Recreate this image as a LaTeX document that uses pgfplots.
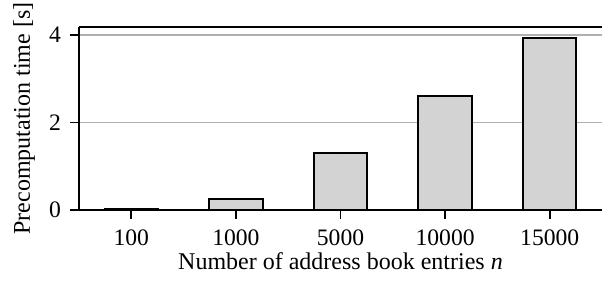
\documentclass[border=0pt]{standalone}
\usepackage{pgfplots}
\pgfplotsset{compat=1.18}
\usepackage{fontspec}
\setmainfont{Liberation Serif}
\definecolor{barfill}{HTML}{D3D3D3}
\definecolor{gridgray}{HTML}{B0B0B0}
\begin{document}
\begin{tikzpicture}
\begin{axis}[
  at={(0,0)}, anchor=south west,
  scale only axis,
  width=261.5pt, height=91.5pt,
  xmin=-0.5, xmax=4.5,
  ymin=0, ymax=4.18,
  separate axis lines,
  axis x line=box,
  axis y line=left,
  axis line style={line width=0.9pt, -},
  xtick={0,1,2,3,4},
  xticklabels={100,1000,5000,10000,15000},
  ytick={0,2,4},
  tick pos=left,
  tick align=outside,
  major tick length=4.5pt,
  tick style={line width=0.9pt, black},
  ymajorgrids,
  grid style={gridgray, line width=0.7pt},
  xlabel={Number of address book entries \textit{n}},
  ylabel={Precomputation time [s]},
  /pgf/number format/assume math mode=true,
  tick label style={font=\fontsize{11.8}{14}\selectfont},
  xticklabel style={yshift=-2pt},
  yticklabel style={xshift=-1pt},
  label style={font=\fontsize{12}{14}\selectfont},
  xlabel style={at={(axis description cs:0.5,-0.279)}, anchor=center},
  ylabel style={at={(axis description cs:-0.105,0.5)}, anchor=center},
]
\addplot[ybar, bar width=0.51, fill=barfill, draw=black, line width=1pt,
  error bars/.cd, y dir=both, y explicit, error bar style={line width=0.8pt}, error mark=none]
  coordinates {
    (0,0.02) +- (0,0.003)
    (1,0.26) +- (0,0.005)
    (2,1.30) +- (0,0.01)
    (3,2.61) +- (0,0.015)
    (4,3.94) +- (0,0.02)
  };
\end{axis}
\pgfresetboundingbox
\path[use as bounding box] (-39.5pt,-37pt) rectangle (262pt,105pt);
\end{tikzpicture}
\end{document}
